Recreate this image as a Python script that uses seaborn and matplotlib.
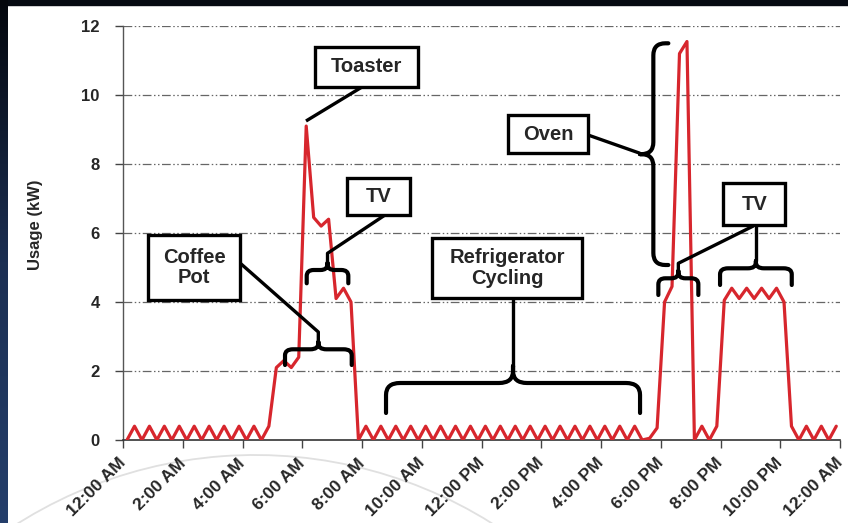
import numpy as np
import pandas as pd
import seaborn as sns
import matplotlib.pyplot as plt
from matplotlib.path import Path
from matplotlib.patches import PathPatch, Rectangle, Arc
from matplotlib.colors import LinearSegmentedColormap

# usage in kW, one reading every 15 minutes (96 readings over the day)
usage_kw = [
    0, 0.4, 0, 0.4, 0, 0.4, 0, 0.4, 0, 0.4, 0, 0.4, 0, 0.4, 0, 0.4, 0, 0.4, 0, 0.4,
    2.1, 2.3, 2.1, 2.4, 9.1, 6.45, 6.2, 6.4, 4.1, 4.4, 4.0,
    0, 0.4, 0, 0.4, 0, 0.4, 0, 0.4, 0, 0.4, 0, 0.4, 0, 0.4, 0, 0.4, 0, 0.4, 0, 0.4,
    0, 0.4, 0, 0.4, 0, 0.4, 0, 0.4, 0, 0.4, 0, 0.4, 0, 0.4, 0, 0.4, 0, 0.4, 0,
    0.05, 0.35,
    4.0, 4.45, 11.2, 11.55,
    0, 0.4, 0, 0.4,
    4.05, 4.4, 4.1, 4.4, 4.1, 4.4, 4.1, 4.4, 4.0,
    0.4, 0, 0.4, 0, 0.4, 0, 0.4,
]
tick_hours = [0, 2, 4, 6, 8, 10, 12, 14, 16, 18, 20, 22, 24]
tick_labels = ["12:00 AM", "2:00 AM", "4:00 AM", "6:00 AM", "8:00 AM", "10:00 AM",
               "12:00 PM", "2:00 PM", "4:00 PM", "6:00 PM", "8:00 PM", "10:00 PM", "12:00 AM"]
y_ticks = [0, 2, 4, 6, 8, 10, 12]

step = 0.25
df = pd.DataFrame({"hour": np.arange(len(usage_kw)) * step + step / 2, "usage": usage_kw})

sns.set_theme(style="white")
plt.rcParams["font.family"] = ["Liberation Sans", "DejaVu Sans"]

fig = plt.figure(figsize=(8.48, 5.23), dpi=100)
fig.patch.set_facecolor("white")

# slide decoration: dark strips and faint arc
strip = fig.add_axes([0, 0, 8 / 848, 1])
grad = np.linspace(0, 1, 256).reshape(-1, 1)
strip.imshow(grad, aspect="auto", cmap=LinearSegmentedColormap.from_list("s", ["#04070d", "#1c2f52", "#253f6b"]))
strip.set_axis_off()
fig.add_artist(Rectangle((0, 1 - 5 / 523), 1, 5 / 523, transform=fig.transFigure, color="#060a12", zorder=0))
fig.add_artist(Arc((255 / 848, 1 - 900 / 523), 890 / 848, 890 / 523, theta1=67, theta2=120,
                   transform=fig.transFigure, color="#e0e0e0", lw=1.3, zorder=0))

ax = fig.add_axes([123.3 / 848, 1 - 440 / 523, 716.7 / 848, 414 / 523])
ax.set_facecolor("none")

for y in y_ticks[1:]:
    ax.axhline(y, color="#666666", lw=0.9, linestyle=(0, (7, 2, 1.2, 2, 1.2, 2)), zorder=1)

sns.lineplot(data=df, x="hour", y="usage", color="#d7262d", linewidth=2.3, ax=ax, zorder=3)

ax.set_xlim(0, 24)
ax.set_ylim(0, 12)
ax.set_xticks(tick_hours)
ax.set_xticklabels(tick_labels, rotation=45, ha="right", va="center", rotation_mode="anchor",
                   fontsize=12.5, fontweight="bold")
ax.set_yticks(y_ticks)
ax.set_yticklabels([str(v) for v in y_ticks], fontsize=12, fontweight="bold")
ax.tick_params(axis="both", direction="out", length=6, width=1, color="#444444", bottom=True, left=True)
ax.tick_params(axis="y", pad=11)
ax.tick_params(axis="x", pad=9)
ax.set_xlabel("")
ax.set_ylabel("Usage (kW)", fontsize=12, fontweight="bold")
ax.yaxis.set_label_coords(-0.112, 0.52)
for s in ["top", "right"]:
    ax.spines[s].set_visible(False)
ax.spines["left"].set_color("#555555")
ax.spines["bottom"].set_color("#333333")
ax.spines["left"].set_linewidth(1)
ax.spines["bottom"].set_linewidth(1.2)

# pixel -> data helpers for the annotation layout
px = lambda x: (x - 123.3) / 29.86
py = lambda y: (440 - y) / 34.5


def brace(start, end, arm, tip, cusp, ru, rv, vertical=False):
    mid = (start + end) / 2
    sgn_t = np.sign(tip - arm)
    sgn_c = np.sign(cusp - arm)
    pts = [(start, tip), (start, arm + sgn_t * rv), (start, arm), (start + ru, arm),
           (mid - ru, arm), (mid, arm), (mid, arm + sgn_c * rv), (mid, cusp),
           (mid, arm + sgn_c * rv), (mid, arm), (mid + ru, arm),
           (end - ru, arm), (end, arm), (end, arm + sgn_t * rv), (end, tip)]
    codes = [Path.MOVETO, Path.LINETO, Path.CURVE3, Path.CURVE3,
             Path.LINETO, Path.CURVE3, Path.CURVE3, Path.LINETO,
             Path.LINETO, Path.CURVE3, Path.CURVE3,
             Path.LINETO, Path.CURVE3, Path.CURVE3, Path.LINETO]
    if vertical:
        pts = [(b, a) for a, b in pts]
    ax.add_patch(PathPatch(Path(pts, codes), fill=False, ec="black", lw=3.0,
                           capstyle="round", joinstyle="round", clip_on=False, zorder=4))


def box(x0, x1, y0, y1, text):
    ax.add_patch(Rectangle((px(x0), py(y1)), px(x1) - px(x0), py(y0) - py(y1), fc="white",
                           ec="black", lw=2.4, clip_on=False, zorder=5))
    ax.text(px((x0 + x1) / 2), py((y0 + y1) / 2), text, ha="center", va="center",
            fontsize=14.5, fontweight="bold", linespacing=1.1, zorder=6)


def connector(points):
    ax.plot([px(p[0]) for p in points], [py(p[1]) for p in points], color="black",
            lw=2.4, solid_capstyle="butt", clip_on=False, zorder=4)


hx = 1 / 29.86
ky = 1 / 34.5

# Toaster
connector([(306, 121), (362, 87)])
box(315, 418, 47, 87, "Toaster")

# TV (morning)
brace(px(306.7), px(348.3), py(270), py(283.3), py(263), 7 * hx, 6 * ky)
connector([(327.5, 263), (327.5, 253.3), (385, 215)])
box(347, 410, 178, 215, "TV")

# Coffee Pot
brace(px(285), px(351.7), py(349.3), py(365), py(342), 8 * hx, 6 * ky)
connector([(318.3, 342), (318.3, 332), (240, 263)])
box(148, 240, 235, 300, "Coffee\nPot")

# Refrigerator Cycling
brace(px(386), px(640), py(383), py(413), py(366), 14 * hx, 12 * ky)
connector([(513, 366), (513, 298)])
box(432, 582, 238, 298, "Refrigerator\nCycling")

# Oven
brace(py(265), py(43.3), px(653.3), px(668.3), px(640), 12 * ky, 12 * hx, vertical=True)
connector([(588, 135), (640, 153.3)])
box(508, 588, 115, 153, "Oven")

# TV (evening) and oven base
brace(px(658.3), px(698.3), py(278.3), py(295), py(271), 7 * hx, 6 * ky)
connector([(678.3, 271), (678.3, 263.3), (753.3, 226)])
brace(px(720), px(791.7), py(268.3), py(285), py(261), 8 * hx, 6 * ky)
connector([(755.8, 261), (755.8, 225)])
box(723.3, 785, 183.3, 225, "TV")

fig.savefig("out.png", dpi=100, facecolor=fig.get_facecolor())
